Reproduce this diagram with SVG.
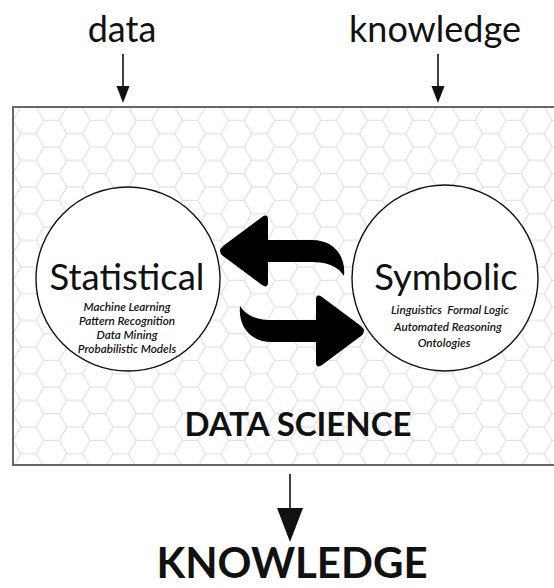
<svg xmlns="http://www.w3.org/2000/svg" width="554" height="588" viewBox="0 0 554 588">
<defs>
<style>
.lbl{font-family:Lato,"Liberation Sans",sans-serif;fill:#111;text-anchor:middle}
.top{font-size:36px}
.big{font-size:36.5px}
.sub{font-size:11.7px;font-style:italic;font-weight:600}
.bold{font-weight:700}
.circ{fill:#fff;stroke:#111;stroke-width:1.4}
.thin{stroke:#111;stroke-width:1.6;fill:none}
.head{fill:#111}
.swap{fill:#000}
</style>
<pattern id="hex" patternUnits="userSpaceOnUse" x="13" y="107" width="46.2" height="26.67">
<path d="M0 13.335 L7.7 0 L23.1 0 L30.8 13.335 L23.1 26.67 L7.7 26.67 Z M30.8 13.335 L46.2 13.335" fill="none" stroke="#dcdcdc" stroke-width="1.1"/>
</pattern>
</defs>
<rect width="554" height="588" fill="#fff"/>
<g id="frame">
<rect x="13" y="107" width="560" height="358" fill="#fff" stroke="#666" stroke-width="2"/>
<rect x="14" y="108" width="558" height="356" fill="url(#hex)"/>
</g>
<g id="connectors">
<line class="thin" x1="123" y1="54" x2="123" y2="88"/>
<path class="head" d="M116.5 86 L129.5 86 L123 103 Z"/>
<line class="thin" x1="438" y1="54" x2="438" y2="88"/>
<path class="head" d="M431.5 86 L444.5 86 L438 103 Z"/>
<line class="thin" x1="290" y1="474" x2="290" y2="512"/>
<path class="head" d="M277 508 L303 508 L290 542 Z"/>
<path class="swap" d="M268 240 L268 220 Q268 213 262 217 L223 246 Q217 251 223 256 L262 285 Q268 289 268 282 L268 262 L312 262 C326 262 338 266 344 276 C346 256 334 240 312 240 Z"/>
<path class="swap" transform="rotate(180 292 291)" d="M268 240 L268 220 Q268 213 262 217 L223 246 Q217 251 223 256 L262 285 Q268 289 268 282 L268 262 L312 262 C326 262 338 266 344 276 C346 256 334 240 312 240 Z"/>
</g>
<g id="data">
<text class="lbl top" x="122" y="42">data</text>
</g>
<g id="knowledge-in">
<text class="lbl top" x="435" y="42">knowledge</text>
</g>
<g id="statistical">
<circle class="circ" cx="128" cy="279" r="92"/>
<text class="lbl big" x="127" y="290">Statistical</text>
<text class="lbl sub" x="127" y="311">Machine Learning</text>
<text class="lbl sub" x="127" y="325">Pattern Recognition</text>
<text class="lbl sub" x="127" y="339">Data Mining</text>
<text class="lbl sub" x="127" y="353">Probabilistic Models</text>
</g>
<g id="symbolic">
<circle class="circ" cx="445" cy="278" r="93"/>
<text class="lbl big" x="446" y="290">Symbolic</text>
<text class="lbl sub" x="450" y="314" xml:space="preserve">Linguistics  Formal Logic</text>
<text class="lbl sub" x="448" y="331">Automated Reasoning</text>
<text class="lbl sub" x="444" y="347">Ontologies</text>
</g>
<g id="data-science">
<text class="lbl bold" x="298" y="436" font-size="33">DATA SCIENCE</text>
</g>
<g id="knowledge-out">
<text class="lbl bold" x="292" y="578" font-size="42">KNOWLEDGE</text>
</g>
</svg>
